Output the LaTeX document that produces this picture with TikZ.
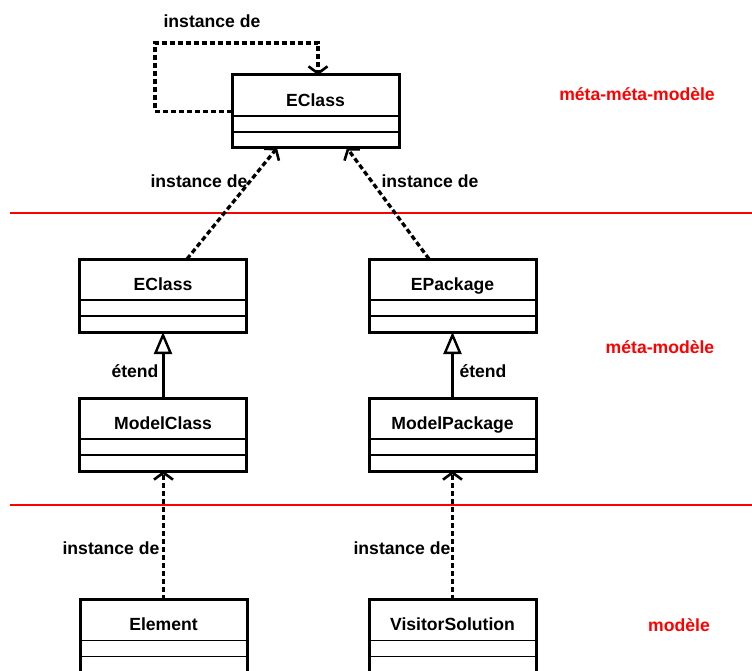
\documentclass[tikz,border=0pt]{standalone}
\usepackage{fontspec}
\setmainfont{Liberation Sans}
\usetikzlibrary{arrows.meta,calc}
\begin{document}
\begin{tikzpicture}[x=1pt,y=-1pt,
  font=\fontsize{17.6}{20}\selectfont\bfseries,
  classbox/.style={draw, line width=3pt, minimum width=167pt, minimum height=73pt,
    inner sep=0pt, outer sep=0pt},
  classtitle/.style={inner sep=0pt, anchor=base},
  compline/.style={line width=1.8pt},
  instanceof/.style={line width=3.3pt, dash pattern=on 5pt off 3pt,
    -{Straight Barb[length=7pt,width=19pt,line width=2.6pt]}},
  extends/.style={line width=3pt,
    -{Triangle[open,length=22pt,width=18pt,fill=white,line width=2.4pt]}},
  lbl/.style={inner sep=0pt},
  level/.style={inner sep=0pt, text=red},
  levelline/.style={red, line width=2.2pt}]
\useasboundingbox (0,0) rectangle (752,671);

% UML class box: name, centre, title
\newcommand\umlclass[3]{%
  \node[classbox] (#1) at (#2) {};
  \node[classtitle] (#1-title) at ($(#1.north)+(0,31.3)$) {#3};
  \draw[compline] ($(#1.north west)+(0,41)$) -- ($(#1.north east)+(0,41)$);
  \draw[compline] ($(#1.north west)+(0,57)$) -- ($(#1.north east)+(0,57)$);
}

% level separators
\coordinate (sepA-l) at (10,213);
\coordinate (sepA-r) at (752,213);
\coordinate (sepB-l) at (10,505);
\coordinate (sepB-r) at (752,505);
\draw[levelline] (sepA-l) -- (sepA-r);
\draw[levelline] (sepB-l) -- (sepB-r);

% classes
\umlclass{meta}{315.5,111.5}{EClass}
\umlclass{eclass}{163,295.5}{EClass}
\umlclass{epackage}{452.5,295.5}{EPackage}
\umlclass{modelclass}{163,434.5}{ModelClass}
\umlclass{modelpackage}{452.5,434.5}{ModelPackage}
\umlclass{element}{163.5,636}{Element}
\umlclass{visitor}{452.5,636}{VisitorSolution}

% self instantiation loop
\coordinate (loop-a) at (155,111.5);
\coordinate (loop-b) at (155,43);
\coordinate (loop-c) at (318,43);
\draw[instanceof] (meta.west) -- (loop-a) -- (loop-b) -- (loop-c) -- ($(meta.north)+(2.5,0)$);
\node[lbl] (loop-lbl) at (212,21) {instance de};

% instantiation links towards the meta-meta-model
\draw[instanceof] ($(eclass.north)+(24,0)$) -- ($(meta.south)+(-38.5,0)$);
\draw[instanceof] ($(epackage.north)+(-23.5,0)$) -- ($(meta.south)+(31.5,0)$);
\node[lbl] (inst-l1) at (199,181) {instance de};
\node[lbl] (inst-r1) at (430,181) {instance de};

% inheritance
\draw[extends] (modelclass.north) -- (eclass.south);
\draw[extends] (modelpackage.north) -- (epackage.south);
\node[lbl] (ext-l) at (135,371) {étend};
\node[lbl] (ext-r) at (483,371) {étend};

% instantiation links towards the meta-model
\draw[instanceof] (element.north) -- (element.north |- modelclass.south);
\draw[instanceof] (visitor.north) -- (visitor.north |- modelpackage.south);
\node[lbl] (inst-l2) at (111,548) {instance de};
\node[lbl] (inst-r2) at (402,548) {instance de};

% level names
\node[level] (lvl-mmm) at (637,94) {méta-méta-modèle};
\node[level] (lvl-mm) at (660,347) {méta-modèle};
\node[level] (lvl-m) at (679,625) {modèle};
\end{tikzpicture}
\end{document}
